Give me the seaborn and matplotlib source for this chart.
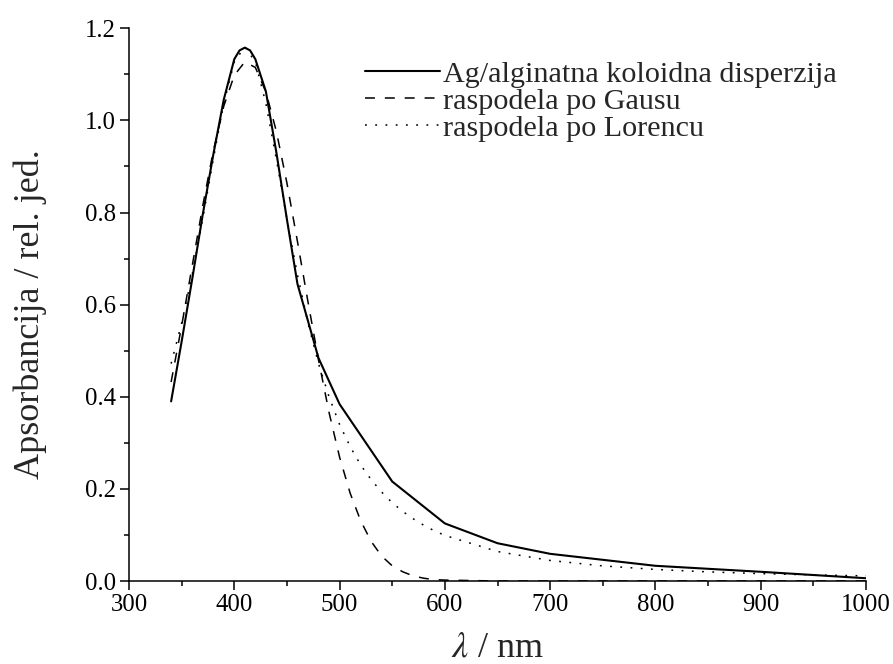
import numpy as np
import pandas as pd
import matplotlib
matplotlib.use("Agg")
import matplotlib.pyplot as plt
from matplotlib.ticker import MultipleLocator, FormatStrFormatter
import seaborn as sns

# measured spectrum
wl_meas = [340, 350, 360, 370, 380, 390, 400, 405, 410, 415, 420, 430, 440, 450, 460, 480, 500,
           550, 600, 650, 700, 800, 900, 1000]
abs_meas = [0.39, 0.52, 0.655, 0.795, 0.925, 1.045, 1.133, 1.152, 1.158, 1.152, 1.133, 1.063,
            0.93, 0.785, 0.645, 0.484, 0.384, 0.216, 0.125, 0.082, 0.059, 0.033, 0.020, 0.006]

# Gaussian fit
wl_gauss = [340, 350, 360, 370, 380, 390, 400, 410, 420, 430, 440, 450, 460, 470, 480, 490,
            500, 510, 520, 530, 540, 550, 560, 570, 580, 590, 600, 650, 700, 800, 900, 1000]
abs_gauss = [0.432, 0.554, 0.684, 0.814, 0.933, 1.031, 1.098, 1.127, 1.115, 1.062, 0.976, 0.864,
             0.737, 0.606, 0.480, 0.366, 0.269, 0.191, 0.131, 0.086, 0.054, 0.033, 0.020, 0.011,
             0.006, 0.003, 0.002, 0.0, 0.0, 0.0, 0.0, 0.0]

# Lorentzian fit
wl_lor = [340, 350, 360, 370, 380, 390, 400, 410, 420, 430, 440, 450, 460, 470, 480, 490,
          500, 510, 520, 530, 540, 550, 560, 570, 580, 590, 600, 650, 700, 750, 800, 850, 900,
          950, 1000]
abs_lor = [0.472, 0.560, 0.665, 0.786, 0.915, 1.037, 1.127, 1.160, 1.127, 1.037, 0.915, 0.786,
           0.665, 0.560, 0.472, 0.400, 0.340, 0.292, 0.252, 0.220, 0.193, 0.170, 0.151, 0.135,
           0.121, 0.109, 0.099, 0.064, 0.0446, 0.0328, 0.0251, 0.0198, 0.0160, 0.0132, 0.0111]

labels = ["Ag/alginatna koloidna disperzija", "raspodela po Gausu", "raspodela po Lorencu"]

sns.set_theme(style="ticks")
plt.rcParams["font.family"] = ["Liberation Serif", "DejaVu Serif"]
plt.rcParams["mathtext.fontset"] = "stix"

fig = plt.figure(figsize=(8.93, 6.64), dpi=100)
ax = fig.add_axes([129 / 893, 1 - 581 / 664, (866 - 129) / 893, (581 - 28.3) / 664])

sns.lineplot(x=wl_meas, y=abs_meas, ax=ax, color="black", linewidth=1.5, label=labels[0])
sns.lineplot(x=wl_gauss, y=abs_gauss, ax=ax, color="black", linewidth=1.1,
             linestyle=(0, (6.5, 6.5)), label=labels[1])
sns.lineplot(x=wl_lor, y=abs_lor, ax=ax, color="black", linewidth=1.1,
             linestyle=(0, (1.2, 5.5)), label=labels[2])

ax.set_xlim(300, 1000)
ax.set_ylim(0, 1.2)
ax.xaxis.set_major_locator(MultipleLocator(100))
ax.xaxis.set_minor_locator(MultipleLocator(50))
ax.yaxis.set_major_locator(MultipleLocator(0.2))
ax.yaxis.set_minor_locator(MultipleLocator(0.1))
ax.yaxis.set_major_formatter(FormatStrFormatter("%.1f"))

sns.despine(ax=ax)
for s in ["left", "bottom"]:
    ax.spines[s].set_linewidth(1.1)
    ax.spines[s].set_color("black")
ax.tick_params(which="major", direction="out", length=6.5, width=1.1, colors="black",
               labelsize=17.8, pad=3)
ax.tick_params(which="minor", direction="out", length=3.3, width=1.1, colors="black")

ax.set_xlabel(r"$\lambda$ / nm", fontsize=26)
ax.set_ylabel("Apsorbancija / rel. jed.", fontsize=26)
ax.xaxis.set_label_coords(0.5, -0.092)
ax.yaxis.set_label_coords(-0.111, 0.483)

leg = ax.legend(loc="upper left", bbox_to_anchor=((365 - 129) / 737, (581 - 60.5) / 552.7),
                frameon=False, fontsize=21.7, handlelength=2.5, handletextpad=0.08,
                labelspacing=0.0, borderpad=0, borderaxespad=0)

fig.savefig("out.png", dpi=100)
